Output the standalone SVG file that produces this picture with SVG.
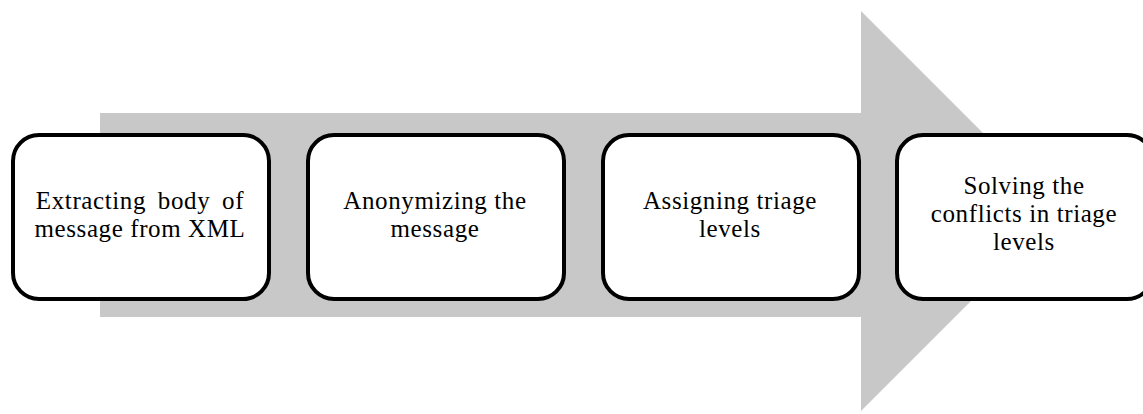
<svg xmlns="http://www.w3.org/2000/svg" width="1143" height="414" viewBox="0 0 1143 414">
  <style>
    .step { fill: #ffffff; stroke: #000000; stroke-width: 4; }
    .label { font-family: "Liberation Serif", "Times New Roman", serif; font-size: 25px; letter-spacing: 0.6px; fill: #000000; text-anchor: middle; }
  </style>
  <rect width="1143" height="414" fill="#ffffff"/>
  <!-- background process arrow -->
  <g id="connectors">
    <polygon points="100,113 861,113 861,11 1061,211 861,411 861,317 100,317" fill="#c8c8c8"/>
  </g>
  <g id="step1">
    <rect class="step" x="13" y="135" width="256" height="164" rx="26" ry="26"/>
    <text class="label" x="140" y="209" word-spacing="5">Extracting body of</text>
    <text class="label" x="140" y="237">message from XML</text>
  </g>
  <g id="step2">
    <rect class="step" x="308" y="135" width="256" height="164" rx="26" ry="26"/>
    <text class="label" x="435" y="209">Anonymizing the</text>
    <text class="label" x="435" y="237">message</text>
  </g>
  <g id="step3">
    <rect class="step" x="603" y="135" width="256" height="164" rx="26" ry="26"/>
    <text class="label" x="730" y="209">Assigning triage</text>
    <text class="label" x="730" y="237">levels</text>
  </g>
  <g id="step4">
    <rect class="step" x="897" y="135" width="256" height="164" rx="26" ry="26"/>
    <text class="label" x="1024" y="194">Solving the</text>
    <text class="label" x="1024" y="222">conflicts in triage</text>
    <text class="label" x="1024" y="250">levels</text>
  </g>
</svg>
